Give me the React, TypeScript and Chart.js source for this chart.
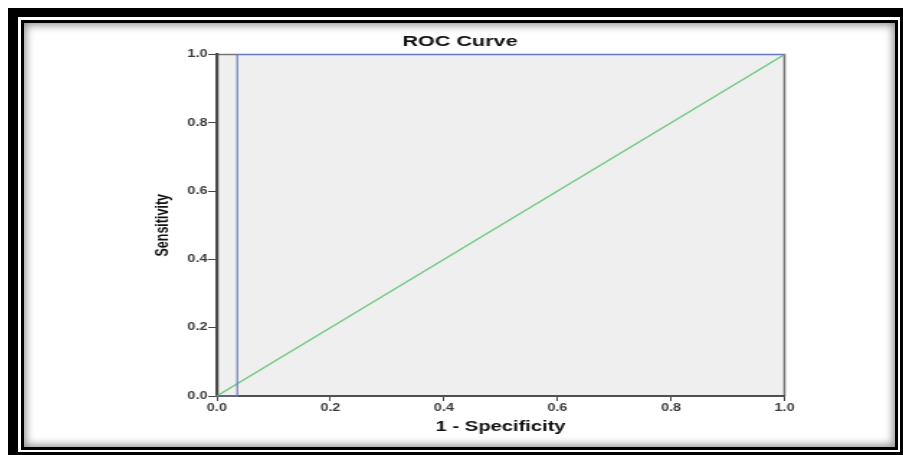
import React, { useEffect, useRef } from "react";
import { Chart, registerables } from "chart.js";

Chart.register(...registerables);

// ROC curve (1 - specificity vs sensitivity)
const rocFpr = [0, 0.036, 0.036, 1];
const rocTpr = [0, 0, 1, 1];
// Reference diagonal
const refFpr = [0, 1];
const refTpr = [0, 1];
const tickValues = [0, 0.2, 0.4, 0.6, 0.8, 1.0];

const titleText = "ROC Curve";
const xTitle = "1 - Specificity";
const yTitle = "Sensitivity";

const FONT = "'Liberation Sans', Arial, sans-serif";

const LOGICAL_W = 606;
const LOGICAL_H = 423;
const CSS_W = 872;

const framePlugin = {
  id: "plotFrame",
  beforeDraw(chart: any) {
    const { ctx, chartArea } = chart;
    const { left, top, right, bottom } = chartArea;
    ctx.save();
    ctx.fillStyle = "#efefef";
    ctx.fillRect(left, top, right - left, bottom - top);
    ctx.strokeStyle = "#777";
    ctx.lineWidth = 1.6;
    ctx.beginPath();
    ctx.moveTo(left, top);
    ctx.lineTo(right, top);
    ctx.lineTo(right, bottom);
    ctx.stroke();
    ctx.restore();
  },
};

export default function App() {
  const ref = useRef<HTMLCanvasElement | null>(null);

  useEffect(() => {
    if (!ref.current) return;
    const chart = new Chart(ref.current, {
      type: "scatter",
      data: {
        datasets: [
          {
            label: "ROC",
            data: rocFpr.map((x, i) => ({ x, y: rocTpr[i] })),
            showLine: true,
            borderColor: "#6878bf",
            borderWidth: 1.2,
            pointRadius: 0,
            fill: false,
            clip: false as any,
            order: 1,
          },
          {
            label: "Reference",
            data: refFpr.map((x, i) => ({ x, y: refTpr[i] })),
            showLine: true,
            borderColor: "#6cc97a",
            borderWidth: 1.2,
            pointRadius: 0,
            fill: false,
            clip: false as any,
            order: 2,
          },
        ],
      },
      options: {
        responsive: false,
        devicePixelRatio: 1,
        animation: false,
        layout: { padding: 0 },
        plugins: {
          legend: { display: false },
          tooltip: { enabled: false },
          title: {
            display: true,
            text: titleText,
            color: "#111",
            font: { family: FONT, size: 15, weight: "bold" },
            padding: { top: 10.3, bottom: 3.2 },
          },
        },
        scales: {
          x: {
            type: "linear",
            min: 0,
            max: 1,
            afterBuildTicks: (s: any) => {
              s.ticks = tickValues.map((v) => ({ value: v }));
            },
            afterFit: (s: any) => {
              s.height = 50;
            },
            ticks: {
              callback: (v: any) => Number(v).toFixed(1),
              color: "#3a3a3a",
              font: { family: FONT, size: 10, weight: "bold" },
              padding: 1,
              maxRotation: 0,
            },
            grid: {
              drawOnChartArea: false,
              drawTicks: true,
              tickLength: 5,
              color: "#444",
              lineWidth: 1,
            },
            border: { display: true, color: "#505050", width: 2 },
            title: {
              display: true,
              text: xTitle,
              color: "#111",
              font: { family: FONT, size: 14, weight: "bold" },
              padding: { top: 0, bottom: 10.6 },
            },
          },
          y: {
            type: "linear",
            min: 0,
            max: 1,
            afterBuildTicks: (s: any) => {
              s.ticks = tickValues.map((v) => ({ value: v }));
            },
            afterFit: (s: any) => {
              s.width = 134;
            },
            ticks: {
              callback: (v: any) => Number(v).toFixed(1),
              color: "#3a3a3a",
              font: { family: FONT, size: 10, weight: "bold" },
              padding: 0.5,
            },
            grid: {
              drawOnChartArea: false,
              drawTicks: true,
              tickLength: 6,
              color: "#444",
              lineWidth: 1,
            },
            border: { display: true, color: "#4a4a4a", width: 2.2 },
            title: {
              display: true,
              text: yTitle,
              color: "#111",
              font: { family: FONT, size: 12.5, weight: "bold" },
              padding: { top: 89, bottom: 0 },
            },
          },
          spacer: {
            type: "linear",
            position: "right",
            display: true,
            min: 0,
            max: 1,
            afterFit: (s: any) => {
              s.width = 77.5;
            },
            ticks: { display: false },
            grid: { display: false, drawTicks: false },
            border: { display: false },
            title: { display: false },
          },
        },
      } as any,
      plugins: [framePlugin],
    });
    return () => chart.destroy();
  }, []);

  return (
    <div
      style={{
        position: "fixed",
        left: 0,
        top: 0,
        width: 903,
        height: 455,
        overflow: "hidden",
        background: "#fff",
      }}
    >
      <div
        style={{
          position: "absolute",
          left: 8,
          top: 8,
          width: 902,
          height: 454,
          boxSizing: "border-box",
          borderStyle: "solid",
          borderColor: "#000",
          borderWidth: "9px 10px 10px 10px",
          background: "#fff",
        }}
      >
        <div
          style={{
            position: "absolute",
            left: 2.5,
            top: 3,
            right: 2,
            bottom: 2,
            boxSizing: "border-box",
            border: "3px solid #000",
            background: "#fff",
            boxShadow: "inset 0 0 9px 2px rgba(0,0,0,0.45)",
          }}
        >
          <canvas
            ref={ref}
            width={LOGICAL_W}
            height={LOGICAL_H}
            style={{ width: CSS_W, height: LOGICAL_H, display: "block" }}
          />
        </div>
      </div>
    </div>
  );
}
